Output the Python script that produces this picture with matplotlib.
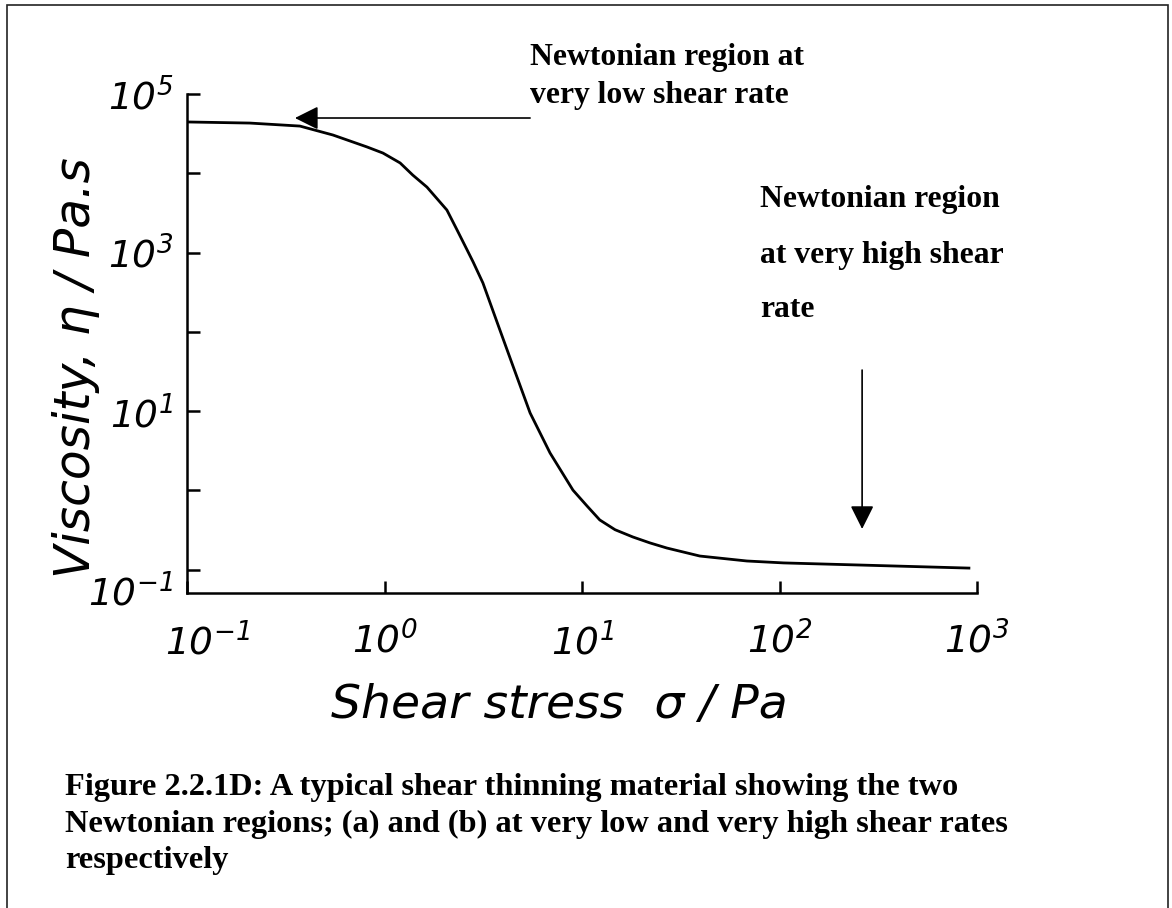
import matplotlib.pyplot as plt
from matplotlib.patches import Rectangle
from matplotlib.transforms import ScaledTranslation

plt.rcParams['mathtext.fontset'] = 'custom'
plt.rcParams['mathtext.rm'] = 'DejaVu Sans:italic'
plt.rcParams['mathtext.it'] = 'DejaVu Sans:italic'

# curve: shear stress (Pa) vs viscosity (Pa.s)
stress = [0.1, 0.208, 0.373, 0.548, 0.815, 0.982, 1.20, 1.39, 1.64, 2.07, 2.33,
          2.62, 2.81, 3.15, 3.76, 4.47, 5.46, 6.89, 9.0, 10.6, 12.3, 14.7, 18.1,
          22.1, 26.9, 39.5, 68.4, 105, 247, 910]
viscosity = [4.44e4, 4.3e4, 3.94e4, 3.04e4, 2.15e4, 1.8e4, 1.35e4, 9.5e3, 6.7e3,
             3.44e3, 1.93e3, 1.08e3, 762, 414, 122, 37.2, 9.5, 2.97, 1.01, 0.638,
             0.425, 0.32, 0.259, 0.218, 0.188, 0.149, 0.129, 0.122, 0.115, 0.105]

x_ticks = [0.1, 1, 10, 100, 1000]
x_ticklabels = [r'$10^{-1}$', r'$10^{0}$', r'$10^{1}$', r'$10^{2}$', r'$10^{3}$']
y_ticks = [0.1, 1, 10, 100, 1e3, 1e4, 1e5]
y_ticklabels = [r'$10^{-1}$', '', r'$10^{1}$', '', r'$10^{3}$', '', r'$10^{5}$']

# arrows: (tail, head) in data units
low_arrow = [(5.46, 4.98e4), (0.352, 4.98e4)]
high_arrow = [(262, 33), (262, 0.327)]

low_text = ['Newtonian region at', 'very low shear rate']
high_text = ['Newtonian region', 'at very high shear', 'rate']
caption = ['Figure 2.2.1D: A typical shear thinning material showing the two',
           'Newtonian regions; (a) and (b) at very low and very high shear rates',
           'respectively']

W, H = 1172, 908
fig = plt.figure(figsize=(W / 100, H / 100), dpi=100)


def fx(px):
    return px / W


def fy(py):
    return 1 - py / H


ax = fig.add_axes([fx(187), fy(593), (977 - 187) / W, (593 - 94) / H])
ax.plot(stress, viscosity, color='black', lw=2.0)
ax.set_xscale('log')
ax.set_yscale('log')
ax.set_xlim(0.1, 1000)
ax.set_ylim(10 ** -1.293, 1e5)
ax.minorticks_off()
ax.set_xticks(x_ticks, x_ticklabels)
ax.set_yticks(y_ticks, y_ticklabels)
ax.tick_params(direction='in', length=9, width=1.8, labelsize=27, color='black')
ax.tick_params(axis='x', pad=21)
ax.tick_params(axis='y', pad=10)
for side in ['top', 'right']:
    ax.spines[side].set_visible(False)
for side in ['left', 'bottom']:
    ax.spines[side].set_linewidth(1.8)

# first labels sit a bit off their ticks in the original
xl = ax.get_xticklabels()[0]
xl.set_transform(xl.get_transform() + ScaledTranslation(0.2, 0, fig.dpi_scale_trans))
yl = ax.get_yticklabels()[0]
yl.set_transform(yl.get_transform() + ScaledTranslation(0, -0.2, fig.dpi_scale_trans))

for tail, head in [low_arrow, high_arrow]:
    ax.annotate('', xy=head, xytext=tail,
                arrowprops=dict(arrowstyle='-|>,head_length=0.8,head_width=0.4',
                                mutation_scale=18, lw=1.2, color='black',
                                shrinkA=0, shrinkB=0))

fig.text(fx(559), fy(718), 'Shear stress  σ / Pa', fontsize=34, fontstyle='italic',
         ha='center', va='baseline')
fig.text(fx(90), fy(368), 'Viscosity, η / Pa.s', fontsize=35, fontstyle='italic',
         rotation=90, ha='center', va='baseline', rotation_mode='anchor')

serif = dict(family='Liberation Serif', fontweight='bold', fontsize=22.8)
for line, base in zip(low_text, [65, 103]):
    fig.text(fx(530), fy(base), line, va='baseline', **serif)
for line, base in zip(high_text, [207, 263, 317]):
    fig.text(fx(760), fy(base), line, va='baseline', **serif)
serif['fontsize'] = 23.3
for line, base in zip(caption, [795, 832, 868]):
    fig.text(fx(65), fy(base), line, va='baseline', **serif)

fig.patches.append(Rectangle((fx(7), fy(930)), fx(1168) - fx(7), fy(5) - fy(930),
                             transform=fig.transFigure, fill=False,
                             edgecolor='#222222', lw=1.2))

fig.savefig('out.png', dpi=100)
